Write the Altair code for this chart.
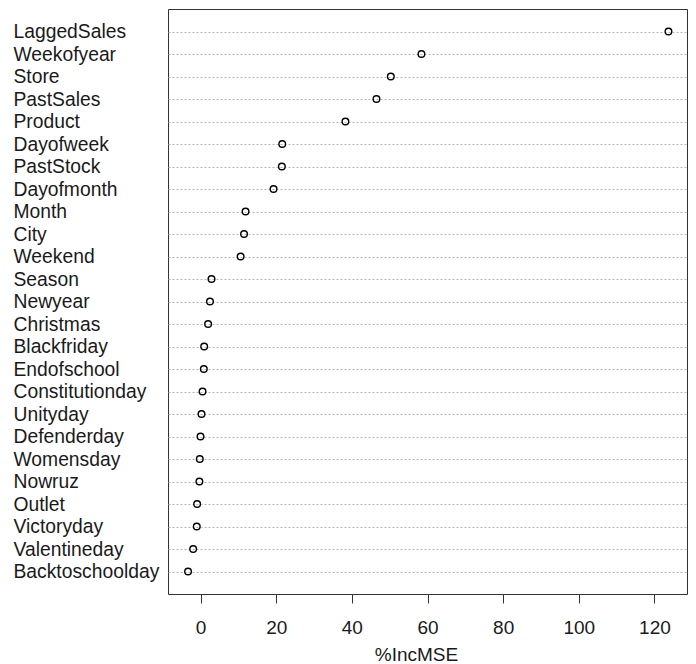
import altair as alt
import pandas as pd

variables = [
    "LaggedSales", "Weekofyear", "Store", "PastSales", "Product", "Dayofweek",
    "PastStock", "Dayofmonth", "Month", "City", "Weekend", "Season", "Newyear",
    "Christmas", "Blackfriday", "Endofschool", "Constitutionday", "Unityday",
    "Defenderday", "Womensday", "Nowruz", "Outlet", "Victoryday",
    "Valentineday", "Backtoschoolday",
]
inc_mse = [
    123.7, 58.4, 50.3, 46.5, 38.3, 21.6,
    21.5, 19.3, 11.9, 11.5, 10.6, 2.9, 2.5,
    2.0, 0.96, 0.87, 0.53, 0.26,
    0.0, -0.2, -0.3, -0.9, -1.0,
    -1.95, -3.3,
]
x_ticks = [0, 20, 40, 60, 80, 100, 120]

df = pd.DataFrame({"variable": variables, "IncMSE": inc_mse})

FONT = "Liberation Sans"
TXT = "#1a1a1a"

chart = (
    alt.Chart(df)
    .mark_point(shape="circle", filled=False, color="black", size=44,
                strokeWidth=1.4, opacity=1)
    .encode(
        x=alt.X(
            "IncMSE:Q",
            scale=alt.Scale(domain=[-8.6, 128.6], nice=False, zero=False),
            axis=alt.Axis(
                values=x_ticks, title="%IncMSE", grid=False, domain=False,
                tickSize=9, tickColor="#333", tickWidth=1,
                labelFont=FONT, labelFontSize=19, labelColor=TXT,
                labelBaseline="alphabetic", labelPadding=30,
                titleFont=FONT, titleFontSize=19, titleFontWeight="normal",
                titleColor=TXT, titleX=248, titleY=66,
                titleBaseline="alphabetic", titleAlign="center",
            ),
        ),
        y=alt.Y(
            "variable:N", sort=variables,
            scale=alt.Scale(type="point", padding=1),
            axis=alt.Axis(
                title=None, ticks=False, tickSize=0, domain=False, grid=True,
                gridDash=[2, 2], gridColor="#B4B4B4", gridWidth=1,
                labelAlign="left", labelPadding=155, labelBaseline="middle",
                labelFont=FONT, labelFontSize=19.3, labelColor=TXT,
            ),
        ),
    )
    .properties(
        width=519, height=585,
        padding={"left": 5, "top": 1, "right": 1, "bottom": 0},
    )
    .configure_view(stroke="#333", strokeWidth=1)
)

chart.save("out.html", embed_options={"renderer": "svg", "actions": False})
